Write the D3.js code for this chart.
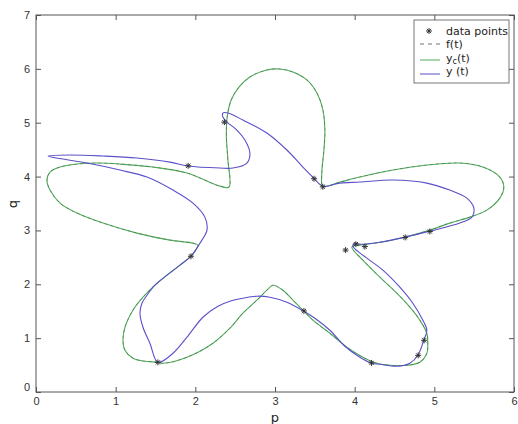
<!DOCTYPE html>
<html><head><meta charset="utf-8">
<script src="https://cdn.jsdelivr.net/npm/d3@7"></script>
<style>body{margin:0;background:#fff;} svg{display:block;font-family:"DejaVu Sans",sans-serif;}</style>
</head><body><svg id="c" width="518" height="424"></svg>
<script>
const xTicks = [0,1,2,3,4,5,6];
const yTicks = [0,1,2,3,4,5,6,7];
const legendLabels = ["data points","f(t)","yc(t)","y (t)"];

const dataPoints = [[1.53,0.55],[1.945,2.52],[1.91,4.20],[2.365,5.01],[3.49,3.96],[3.60,3.81],
 [4.015,2.745],[4.128,2.70],[3.886,2.635],[4.634,2.87],[4.944,2.98],[4.872,0.96],[4.797,0.68],
 [4.212,0.54],[3.363,1.505]];

const ycCurve = [[1.531,0.552],[1.368,0.571],[1.217,0.626],[1.117,0.775],[1.092,0.961],[1.117,1.203],
 [1.217,1.519],[1.343,1.760],[1.493,1.983],[1.644,2.169],[1.807,2.355],[1.945,2.522],[2.020,2.671],
 [2.033,2.727],[1.970,2.764],[1.681,2.820],[1.267,2.950],[0.841,3.136],[0.514,3.322],[0.301,3.507],
 [0.176,3.749],[0.138,3.935],[0.176,4.084],[0.301,4.177],[0.514,4.232],[0.765,4.251],[1.054,4.232],
 [1.468,4.177],[1.895,4.065],[2.309,3.823],[2.422,3.805],[2.409,4.307],[2.390,4.734],[2.400,5.106],
 [2.450,5.422],[2.550,5.664],[2.685,5.849],[2.898,5.980],[3.061,5.998],[3.225,5.942],[3.400,5.794],
 [3.526,5.552],[3.601,5.236],[3.626,4.864],[3.614,4.493],[3.588,4.065],[3.601,3.823],[3.814,3.898],
 [4.065,3.991],[4.479,4.121],[4.906,4.214],[5.320,4.251],[5.609,4.177],[5.822,3.991],[5.872,3.805],
 [5.822,3.600],[5.659,3.377],[5.445,3.247],[5.194,3.136],[4.944,3.006],[4.630,2.875],[4.316,2.782],
 [4.065,2.727],[3.965,2.690],[4.103,2.448],[4.316,2.132],[4.529,1.835],[4.693,1.574],[4.818,1.333],
 [4.906,1.091],[4.918,0.905],[4.906,0.719],[4.818,0.552],[4.655,0.496],[4.442,0.496],[4.279,0.533],
 [4.103,0.645],[3.902,0.831],[3.689,1.091],[3.476,1.333],[3.350,1.519],[3.225,1.704],[3.099,1.890],
 [2.974,1.983],[2.898,1.890],[2.773,1.704],[2.597,1.463],[2.434,1.184],[2.221,0.905],[1.895,0.645],
 [1.593,0.533]];

// f(t) coincides with y_c(t) in the picture
const fCurve = ycCurve;

const yCurve = [[1.531,0.552],[1.430,0.905],[1.343,1.203],[1.305,1.463],[1.330,1.649],[1.393,1.797],
 [1.493,1.983],[1.644,2.169],[1.807,2.355],[1.945,2.522],[2.058,2.764],[2.146,3.006],[2.120,3.247],
 [1.970,3.507],[1.719,3.749],[1.393,3.991],[1.054,4.121],[0.640,4.251],[0.339,4.325],[0.151,4.381],
 [0.427,4.400],[0.841,4.381],[1.267,4.344],[1.681,4.269],[1.907,4.195],[2.309,4.158],[2.472,4.158],
 [2.647,4.251],[2.685,4.437],[2.622,4.678],[2.522,4.864],[2.396,5.013],[2.346,5.106],[2.346,5.180],
 [2.409,5.180],[2.597,5.050],[2.898,4.809],[3.149,4.493],[3.350,4.177],[3.488,3.972],[3.601,3.823],
 [3.814,3.879],[4.065,3.898],[4.479,3.935],[4.906,3.879],[5.194,3.749],[5.408,3.600],[5.496,3.414],
 [5.471,3.247],[5.320,3.136],[4.944,2.987],[4.630,2.875],[4.316,2.782],[4.065,2.745],[4.003,2.764],
 [3.977,2.708],[4.103,2.541],[4.354,2.262],[4.567,1.946],[4.730,1.649],[4.856,1.333],[4.906,1.147],
 [4.868,0.961],[4.793,0.682],[4.693,0.533],[4.529,0.478],[4.316,0.515],[4.216,0.533],[4.065,0.645],
 [3.877,0.849],[3.689,1.147],[3.501,1.370],[3.363,1.500],[3.149,1.667],[2.936,1.760],[2.773,1.779],
 [2.597,1.742],[2.434,1.686],[2.284,1.593],[2.095,1.388],[1.895,1.017],[1.719,0.719]];

const GREEN = "#4fae5a", BLUE = "#5a50c8", AXIS = "#555";
const svg = d3.select("#c");
const L = 36, R = 514, T = 15, B = 392;
const x = d3.scaleLinear().domain([0,6]).range([L,R]);
const y = d3.scaleLinear().domain([0,7]).range([B,T]);

const line = d3.line().x(d=>x(d[0])).y(d=>y(d[1])).curve(d3.curveCatmullRomClosed.alpha(0.5));

svg.append("path").attr("d", line(ycCurve)).attr("fill","none").attr("stroke",GREEN).attr("stroke-width",1.1);
svg.append("path").attr("d", line(fCurve)).attr("fill","none").attr("stroke","#4a5a4a").attr("stroke-opacity",0.55)
  .attr("stroke-width",0.8).attr("stroke-dasharray","3,3");
svg.append("path").attr("d", line(yCurve)).attr("fill","none").attr("stroke",BLUE).attr("stroke-width",1.1);

function star(g, cx, cy, r){
  const p = `M${cx-r},${cy}L${cx+r},${cy}M${cx},${cy-r}L${cx},${cy+r}` +
    `M${cx-r*0.7},${cy-r*0.7}L${cx+r*0.7},${cy+r*0.7}M${cx-r*0.7},${cy+r*0.7}L${cx+r*0.7},${cy-r*0.7}`;
  g.append("path").attr("d",p).attr("stroke","#333").attr("stroke-width",1).attr("fill","none");
}
const pg = svg.append("g");
dataPoints.forEach(d=>star(pg, x(d[0]), y(d[1]), 3));

// axes box
svg.append("rect").attr("x",L).attr("y",T).attr("width",R-L).attr("height",B-T)
  .attr("fill","none").attr("stroke",AXIS).attr("stroke-width",1);

const gx = svg.append("g").attr("transform",`translate(0,${B})`)
  .call(d3.axisBottom(x).tickValues(xTicks).tickSize(-5).tickPadding(5).tickFormat(d3.format("d")));
const gxt = svg.append("g").attr("transform",`translate(0,${T})`)
  .call(d3.axisTop(x).tickValues(xTicks).tickSize(-5).tickFormat(""));
const gy = svg.append("g").attr("transform",`translate(${L},0)`)
  .call(d3.axisLeft(y).tickValues(yTicks).tickSize(-5).tickPadding(6).tickFormat(d3.format("d")));
const gyr = svg.append("g").attr("transform",`translate(${R},0)`)
  .call(d3.axisRight(y).tickValues(yTicks).tickSize(-5).tickFormat(""));
[gx,gxt,gy,gyr].forEach(g=>{
  g.select(".domain").remove();
  g.selectAll(".tick line").attr("stroke",AXIS);
  g.selectAll("text").attr("fill","#333").attr("font-size",11);
});
gy.selectAll(".tick text").filter(d=>d===0).attr("dy","-0.1em");

svg.append("text").attr("x",275).attr("y",422).attr("text-anchor","middle")
  .attr("font-size",13).attr("fill","#222").text("p");
svg.append("text").attr("transform","translate(17,204) rotate(-90)").attr("text-anchor","middle")
  .attr("font-size",13).attr("fill","#222").text("q");

// legend
const lg = svg.append("g");
lg.append("rect").attr("x",414).attr("y",20).attr("width",95).attr("height",63)
  .attr("fill","#fff").attr("stroke",AXIS).attr("stroke-width",0.8);
const ly = [31,44,58,71];
star(lg, 429, ly[0], 3);
lg.append("line").attr("x1",420).attr("x2",440).attr("y1",ly[1]).attr("y2",ly[1])
  .attr("stroke","#777").attr("stroke-dasharray","4,4");
lg.append("line").attr("x1",420).attr("x2",440).attr("y1",ly[2]+2).attr("y2",ly[2]+2).attr("stroke",GREEN);
lg.append("line").attr("x1",420).attr("x2",440).attr("y1",ly[3]+3).attr("y2",ly[3]+3).attr("stroke",BLUE);
legendLabels.forEach((t,i)=>{
  const tx = lg.append("text").attr("x",446).attr("y",ly[i]+4).attr("font-size",11).attr("fill","#222");
  if (t === "yc(t)") {
    tx.append("tspan").text("y");
    tx.append("tspan").attr("font-size",8).attr("dy",2).text("c");
    tx.append("tspan").attr("dy",-2).text("(t)");
  } else tx.text(t);
});
</script></body></html>
